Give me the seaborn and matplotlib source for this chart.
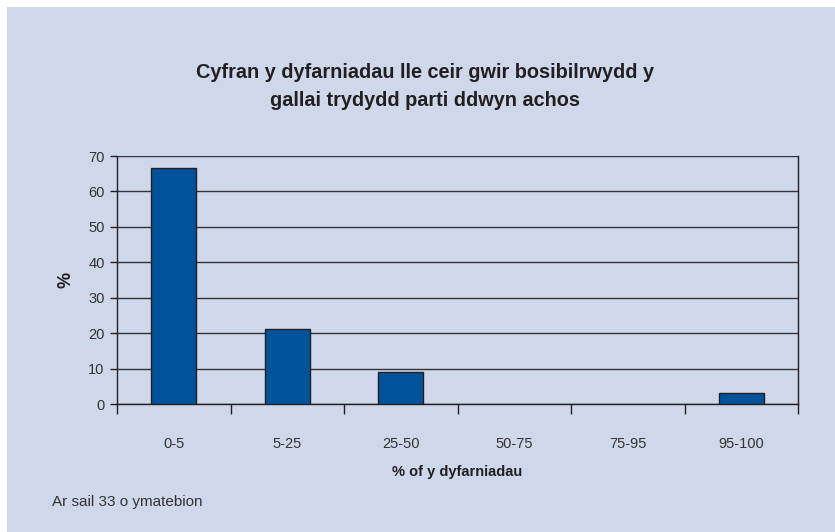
import pandas as pd
import seaborn as sns
import matplotlib.pyplot as plt
from matplotlib.patches import Rectangle

categories = ["0-5", "5-25", "25-50", "50-75", "75-95", "95-100"]
values = [66.7, 21.2, 9.1, 0, 0, 3.0]
title = "Cyfran y dyfarniadau lle ceir gwir bosibilrwydd y\ngallai trydydd parti ddwyn achos"
xlabel = "% of y dyfarniadau"
ylabel = "%"
note = "Ar sail 33 o ymatebion"

BG = "#CFD8EA"
BAR = "#00539A"
INK = "#231F20"

sns.set_style("white")
plt.rcParams["font.family"] = ["Liberation Sans", "DejaVu Sans"]

df = pd.DataFrame({"cat": categories, "val": values})

fig = plt.figure(figsize=(8.35, 5.32), dpi=100, facecolor="white")
fig.patches.append(Rectangle((7 / 835, 0), 1, 1 - 7 / 532, transform=fig.transFigure,
                             facecolor=BG, edgecolor="none", zorder=-5))
ax = fig.add_axes([117 / 835, 1 - 404 / 532, (798 - 117) / 835, (404 - 156) / 532])
ax.set_facecolor(BG)

sns.barplot(data=df, x="cat", y="val", ax=ax, color=BAR, width=0.4,
            edgecolor=INK, linewidth=1, saturation=1, zorder=3)
# empty classes show no outline
for p in ax.patches:
    if p.get_height() == 0:
        p.set_edgecolor("none")

ax.set_xlim(-0.5, 5.5)
ax.set_ylim(0, 70)
ax.set_yticks(range(0, 71, 10))
ax.yaxis.grid(True, color="#333333", linewidth=1, zorder=1)
ax.set_axisbelow(True)

# tick marks between categories, labels centred
ax.set_xticks([i - 0.5 for i in range(len(categories) + 1)], minor=True)
ax.tick_params(axis="x", which="minor", length=7, width=1, color=INK, direction="out", bottom=True)
ax.tick_params(axis="x", which="major", length=0, pad=24, labelsize=10.5, labelcolor="#333333")
ax.tick_params(axis="y", length=5, width=1, color=INK, direction="out", left=True,
               labelsize=10.5, labelcolor="#333333", pad=4)

for s in ["left", "right", "bottom"]:
    ax.spines[s].set_color(INK)
    ax.spines[s].set_linewidth(1)
ax.spines["top"].set_visible(False)

ax.set_xlabel(xlabel, fontsize=10.5, fontweight="bold", color=INK, labelpad=10)
ax.set_ylabel(ylabel, fontsize=13, fontweight="bold", color=INK, labelpad=10)

fig.text(425 / 835, 1 - 86 / 532, title, ha="center", va="center", fontsize=14.3,
         fontweight="bold", color=INK, linespacing=1.6)
fig.text(52 / 835, 1 - 502 / 532, note, ha="left", va="center", fontsize=11, color="#333333")

plt.savefig("out.png", dpi=100, facecolor="white")
